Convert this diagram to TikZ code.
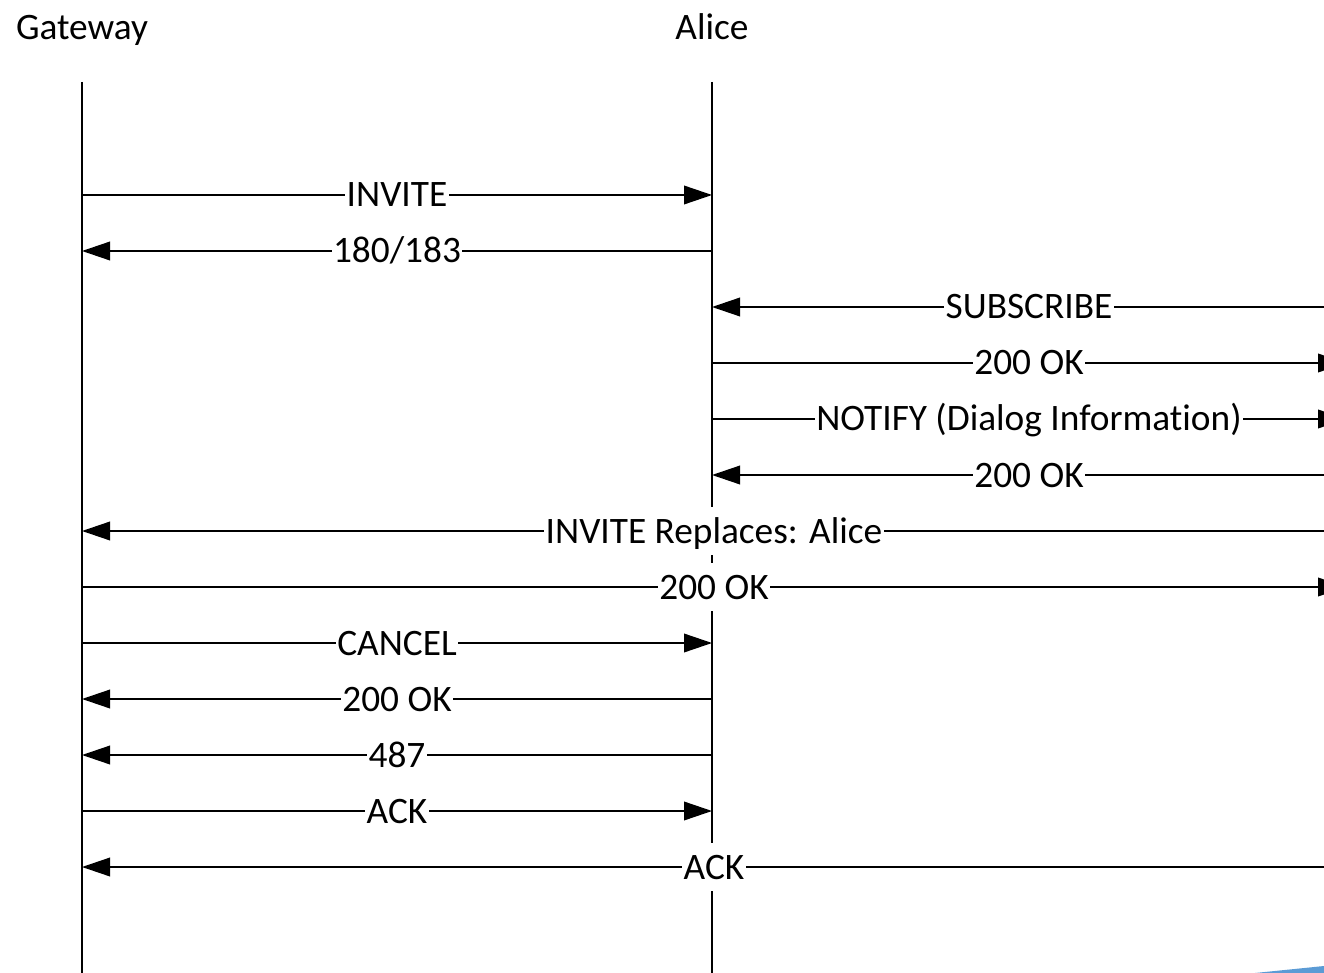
\documentclass[tikz,border=0pt]{standalone}
\usepackage{fontspec}
\setmainfont[Ligatures=NoCommon]{Carlito}
\usetikzlibrary{arrows.meta}
\definecolor{edgeblue}{HTML}{5B9BD5}
\tikzset{
  lifeline/.style={line width=1.1pt},
  msg/.style={line width=1.1pt, -{Triangle[length=21pt,width=14pt]}},
  lbl/.style={fill=white, inner xsep=1pt, inner ysep=3pt, text height=24pt, text depth=6pt,
    font=\fontsize{28}{34}\selectfont},
  head/.style={anchor=base, font=\fontsize{28}{34}\selectfont}
}
\begin{document}
\begin{tikzpicture}[x=0.75pt,y=-0.75pt]
\useasboundingbox (0,0) rectangle (1324,973);
\clip (0,0) rectangle (1324,973);

% lifelines
\node[head] (gw) at (82,40) {Gateway};
\node[head] (alice) at (712,40) {Alice};
\coordinate (gwtop) at (82,82);
\coordinate (gwbot) at (82,973);
\coordinate (alicetop) at (712,82);
\coordinate (alicebot) at (712,973);
\draw[lifeline] (gwtop) -- (gwbot);
\draw[lifeline] (alicetop) -- (alicebot);

% message rows
\foreach \i in {1,...,13} {
  \coordinate (g\i) at (82,139+56*\i);
  \coordinate (a\i) at (712,139+56*\i);
  \coordinate (b\i) at (1346,139+56*\i);
}

\draw[msg] (g1) -- node[lbl] {INVITE} (a1);
\draw[msg] (a2) -- node[lbl] {180/183} (g2);
\draw[msg] (b3) -- node[lbl] {SUBSCRIBE} (a3);
\draw[msg] (a4) -- node[lbl] {200 OK} (b4);
\draw[msg] (a5) -- node[lbl] {NOTIFY (Dialog Information)} (b5);
\draw[msg] (b6) -- node[lbl] {200 OK} (a6);
\draw[msg] (b7) -- node[lbl] {INVITE Replaces: Alice} (g7);
\draw[msg] (g8) -- node[lbl] {200 OK} (b8);
\draw[msg] (g9) -- node[lbl] {CANCEL} (a9);
\draw[msg] (a10) -- node[lbl] {200 OK} (g10);
\draw[msg] (a11) -- node[lbl] {487} (g11);
\draw[msg] (g12) -- node[lbl] {ACK} (a12);
\draw[msg] (b13) -- node[lbl] {ACK} (g13);

% sliver in the corner
\fill[edgeblue] (1255,973) -- (1324,966) -- (1324,973) -- cycle;
\end{tikzpicture}
\end{document}
